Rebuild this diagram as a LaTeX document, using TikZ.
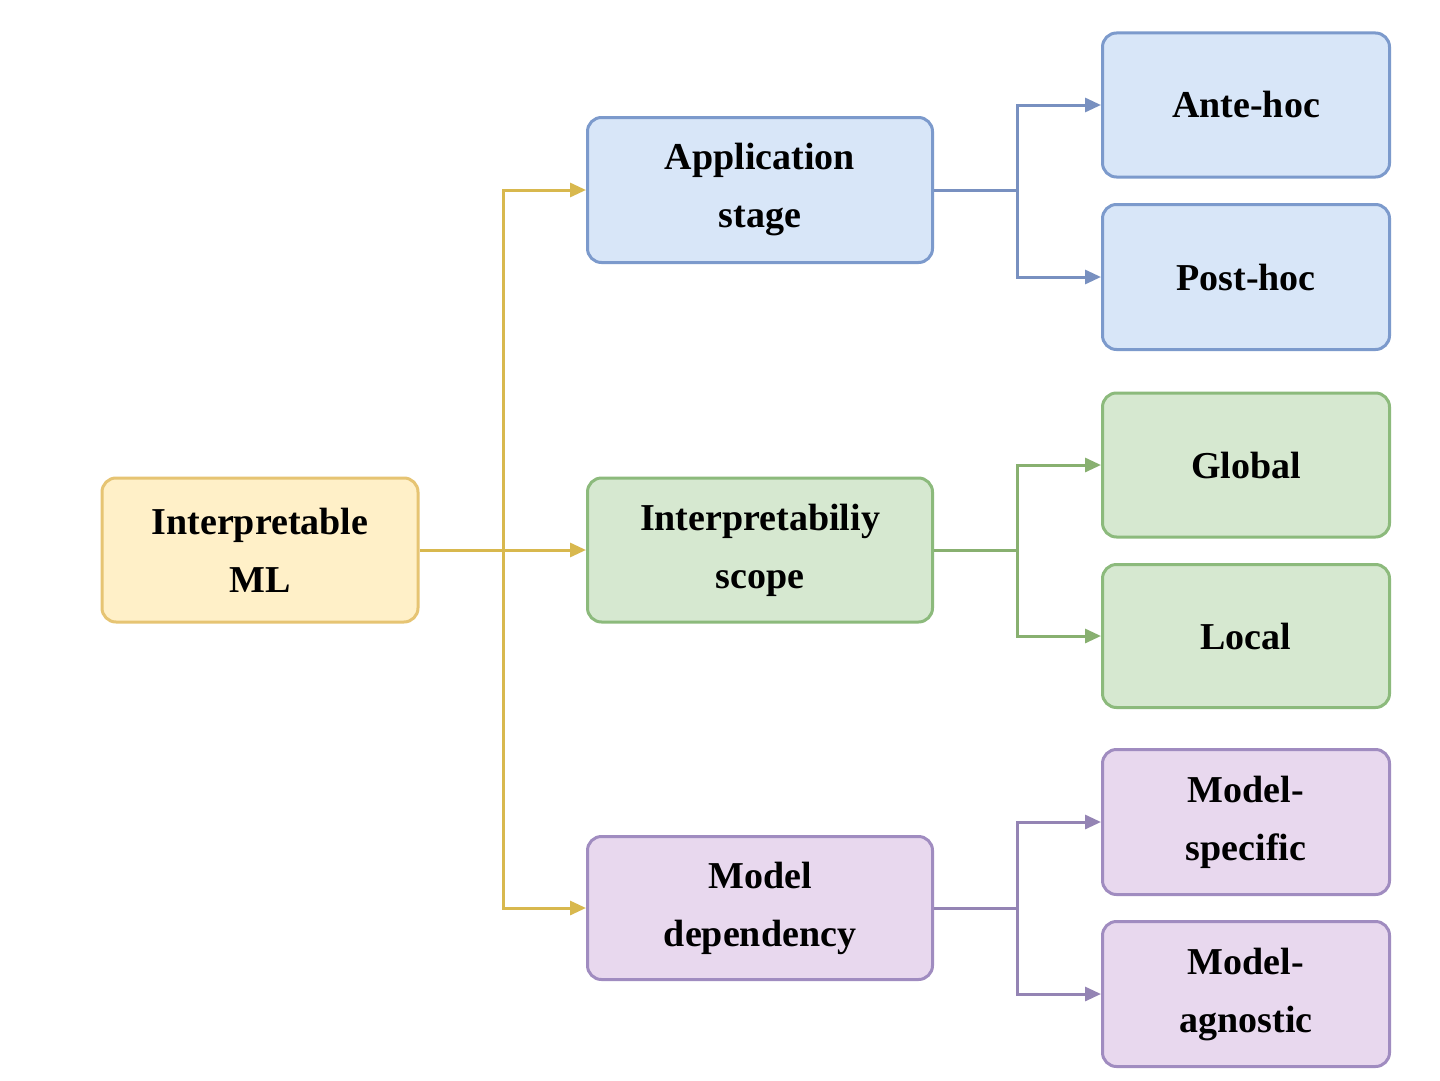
\documentclass[tikz,border=0pt]{standalone}
\usepackage{fontspec}
\setmainfont{Liberation Serif}
\usetikzlibrary{arrows.meta}
\definecolor{yf}{HTML}{FFF0C8}\definecolor{yd}{HTML}{E6C473}\definecolor{ya}{HTML}{D8B84E}
\definecolor{bf}{HTML}{D8E6F8}\definecolor{bd}{HTML}{7C9ACC}\definecolor{ba}{HTML}{7890C0}
\definecolor{gf}{HTML}{D6E8D0}\definecolor{gd}{HTML}{8CBA7C}\definecolor{ga}{HTML}{88B070}
\definecolor{pf}{HTML}{E8D8EE}\definecolor{pd}{HTML}{A08CC0}\definecolor{pa}{HTML}{9484B4}
\tikzset{x=1pt,y=-1pt,
 box/.style={draw,line width=3pt,rounded corners=14pt,align=center,font=\fontsize{38}{58}\selectfont\bfseries,inner sep=0pt},
 conn/.style={line width=3pt,-{Triangle[length=16pt,width=14pt]}}}
\begin{document}
\begin{tikzpicture}
\useasboundingbox[fill=white] (0,0) rectangle (1440,1081);
\node[box,fill=yf,draw=yd,minimum width=316pt,minimum height=144pt] (root) at (260,550) {Interpretable\\ML};
\node[box,fill=bf,draw=bd,minimum width=345pt,minimum height=145pt] (app) at (760,190) {Application\\stage};
\node[box,fill=gf,draw=gd,minimum width=345pt,minimum height=144pt] (scope) at (760,550) {Interpretabiliy\\scope};
\node[box,fill=pf,draw=pd,minimum width=345pt,minimum height=143pt] (dep) at (760,908) {Model\\dependency};
\node[box,fill=bf,draw=bd,minimum width=287pt,minimum height=144pt] (ante) at (1246,105) {Ante-hoc};
\node[box,fill=bf,draw=bd,minimum width=287pt,minimum height=145pt] (post) at (1246,277) {Post-hoc};
\node[box,fill=gf,draw=gd,minimum width=287pt,minimum height=144pt] (glob) at (1246,465) {Global};
\node[box,fill=gf,draw=gd,minimum width=287pt,minimum height=143pt] (loc) at (1246,636) {Local};
\node[box,fill=pf,draw=pd,minimum width=287pt,minimum height=145pt] (spec) at (1246,822) {Model-\\specific};
\node[box,fill=pf,draw=pd,minimum width=287pt,minimum height=145pt] (agn) at (1246,994) {Model-\\agnostic};
\coordinate (j0) at (503,550);
\draw[conn,ya] (root.east) -- (j0) -- (scope.west);
\draw[conn,ya] (j0) |- (app.west);
\draw[conn,ya] (j0) |- (dep.west);
\coordinate (j1) at (1017,190);\coordinate (j2) at (1017,550);\coordinate (j3) at (1017,908);
\draw[conn,ba] (app.east) -- (j1) |- (ante.west);
\draw[conn,ba] (j1) |- (post.west);
\draw[conn,ga] (scope.east) -- (j2) |- (glob.west);
\draw[conn,ga] (j2) |- (loc.west);
\draw[conn,pa] (dep.east) -- (j3) |- (spec.west);
\draw[conn,pa] (j3) |- (agn.west);
\end{tikzpicture}
\end{document}
